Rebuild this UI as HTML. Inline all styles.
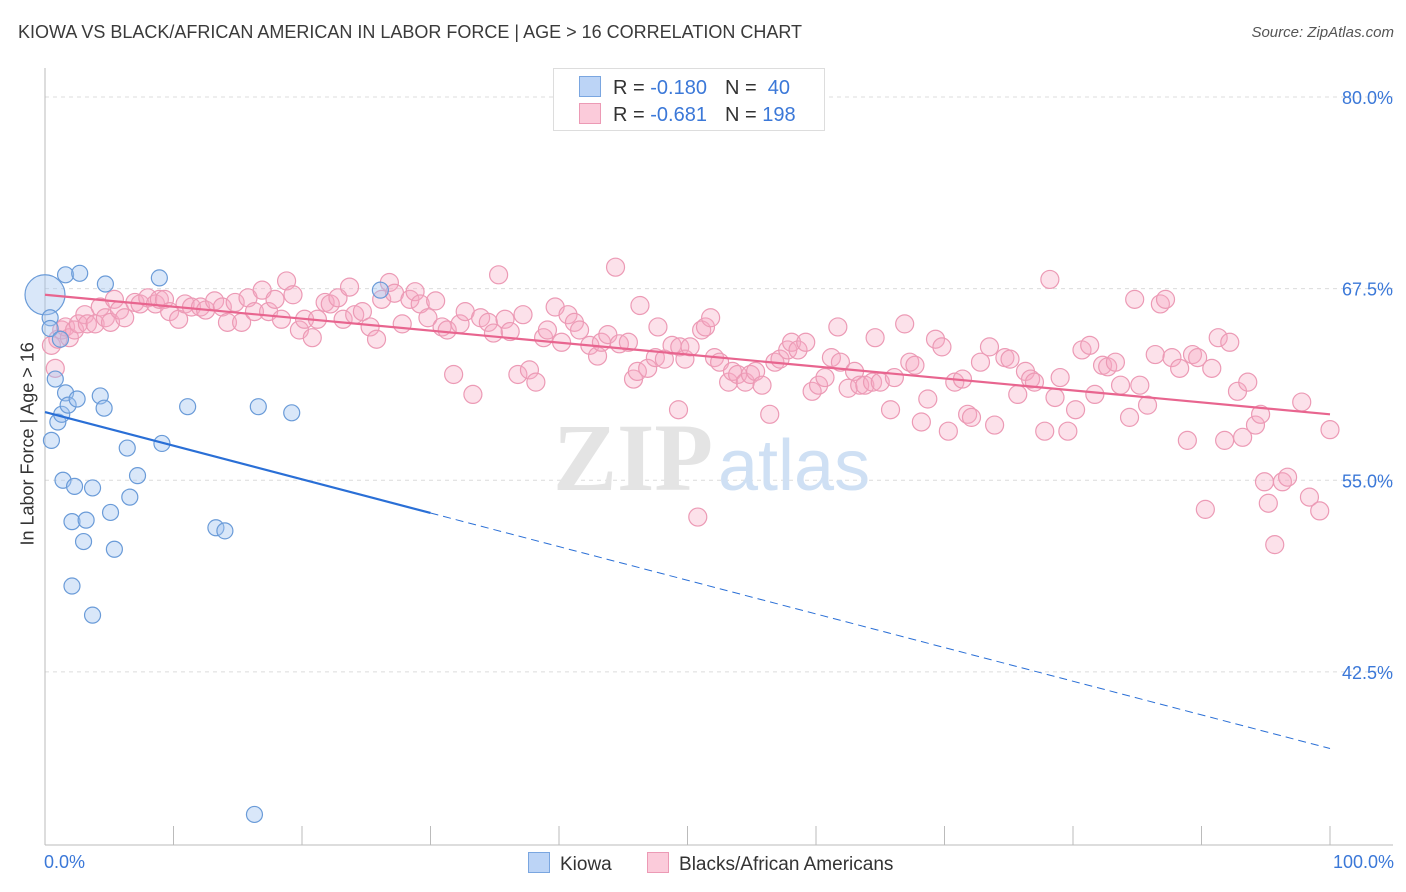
<!DOCTYPE html>
<html><head><meta charset="utf-8">
<style>
body{margin:0;background:#fff;font-family:"Liberation Sans",sans-serif;}
#wrap{position:relative;width:1406px;height:892px;overflow:hidden;}
.t{position:absolute;white-space:nowrap;}
</style></head>
<body>
<div id="wrap">
<div class="t" style="left:18px;top:22px;font-size:18px;color:#3a3a3a;">KIOWA VS BLACK/AFRICAN AMERICAN IN LABOR FORCE | AGE &gt; 16 CORRELATION CHART</div>
<div class="t" style="right:12px;top:24px;font-size:15px;color:#555;font-style:italic;">Source: ZipAtlas.com</div>
<svg id="svg" width="1406" height="892" style="position:absolute;left:0;top:0"></svg>
</div>
<script>
const kiowaX=[0,0.4,0.4,0.5,0.8,1.0,1.2,1.3,1.4,1.6,1.6,1.8,2.1,2.1,2.3,2.5,2.7,3.0,3.2,3.7,3.7,4.3,4.6,4.7,5.1,5.4,6.4,6.6,7.2,8.9,9.1,11.1,13.3,14.0,16.3,16.6,19.2,26.1];
const kiowaY=[67.1,65.6,64.9,57.6,61.6,58.8,64.2,59.3,55.0,68.4,60.7,59.9,52.3,48.1,54.6,60.3,68.5,51.0,52.4,46.2,54.5,60.5,59.7,67.8,52.9,50.5,57.1,53.9,55.3,68.2,57.4,59.8,51.9,51.7,33.2,59.8,59.4,67.4];
const blackX=[0.5,0.8,1.0,1.3,1.6,1.9,2.3,2.6,3.1,3.3,3.9,4.3,4.7,5.1,5.4,5.8,6.2,7.0,7.4,8.0,8.6,8.9,9.3,9.7,10.4,10.9,11.4,12.1,12.5,13.2,13.8,14.2,14.8,15.3,15.8,16.3,16.9,17.4,17.9,18.4,18.8,19.3,19.8,20.2,20.8,21.2,21.8,22.2,22.8,23.2,23.7,24.1,24.7,25.3,25.8,26.2,26.8,27.2,27.8,28.4,28.8,29.2,29.8,30.4,30.9,31.3,31.8,32.3,32.7,33.3,33.9,34.5,34.9,35.3,35.8,36.2,36.8,37.2,37.7,38.2,38.8,39.1,39.7,40.2,40.7,41.2,41.6,42.4,43.0,43.3,43.8,44.4,44.7,45.4,45.8,46.1,46.3,46.9,47.5,47.7,48.2,48.8,49.3,49.4,49.8,50.2,50.8,51.1,51.4,51.8,52.1,52.5,53.2,53.5,53.9,54.5,54.9,55.3,55.8,56.4,56.8,57.2,57.8,58.1,58.6,59.2,59.7,60.2,60.7,61.2,61.7,61.9,62.5,63.0,63.4,63.8,64.4,64.6,65.0,65.8,66.1,66.9,67.3,67.7,68.2,68.7,69.3,69.8,70.3,70.8,71.4,71.8,72.1,72.8,73.5,73.9,74.7,75.1,75.7,76.3,76.7,77.0,77.8,78.2,78.6,79.0,79.6,80.2,80.7,81.3,81.7,82.3,82.7,83.3,83.7,84.4,84.8,85.2,85.8,86.4,86.8,87.2,87.7,88.3,88.9,89.3,89.7,90.3,90.8,91.3,91.8,92.2,92.8,93.2,93.6,94.2,94.6,94.9,95.2,95.7,96.3,96.7,97.8,98.4,99.2,100];
const blackY=[63.8,62.3,64.2,64.8,65.0,64.3,64.8,65.2,65.8,65.2,65.2,66.3,65.6,65.3,66.8,66.1,65.6,66.6,66.5,66.9,66.5,66.8,66.8,66.0,65.5,66.5,66.3,66.3,66.1,66.7,66.3,65.3,66.6,65.3,66.9,66.0,67.4,66.0,66.8,65.5,68.0,67.1,64.8,65.5,64.3,65.5,66.6,66.5,66.9,65.5,67.6,65.8,66.0,65.0,64.2,66.8,67.9,67.2,65.2,66.8,67.3,66.5,65.6,66.7,65.0,64.8,61.9,65.2,66.0,60.6,65.6,65.3,64.6,68.4,65.5,64.7,61.9,65.8,62.2,61.4,64.3,64.8,66.3,64.0,65.8,65.3,64.8,63.8,63.1,64.0,64.5,68.9,63.9,64.0,61.6,62.1,66.4,62.3,63.0,65.0,62.9,63.8,59.6,63.7,62.9,63.7,52.6,64.8,65.0,65.6,63.0,62.7,61.4,62.1,61.9,61.4,61.9,62.1,61.2,59.3,62.7,62.9,63.5,64.0,63.5,64.0,60.8,61.2,61.7,63.0,65.0,62.7,61.0,62.1,61.2,61.2,61.4,64.3,61.4,59.6,61.7,65.2,62.7,62.5,58.8,60.3,64.2,63.7,58.2,61.4,61.6,59.3,59.1,62.7,63.7,58.6,63.0,62.9,60.6,62.1,61.6,61.4,58.2,68.1,60.4,61.7,58.2,59.6,63.5,63.8,60.6,62.5,62.4,62.7,61.2,59.1,66.8,61.2,59.9,63.2,66.5,66.8,63.0,62.3,57.6,63.2,63.0,53.1,62.3,64.3,57.6,64.0,60.8,57.8,61.4,58.6,59.3,54.9,53.5,50.8,54.9,55.2,60.1,53.9,53.0,58.3];
const yTicks=[80,67.5,55,42.5];
const yTickLabels=["80.0%","67.5%","55.0%","42.5%"];
const kiowaTrend=[59.45,37.5];
const blackTrend=[67.1,59.3];

const NS="http://www.w3.org/2000/svg";
const svg=document.getElementById('svg');
const X0=45,X1=1330;
function sx(v){return X0+(X1-X0)*v/100;}
function sy(v){return 97+(80-v)*15.33;}
function mk(tag,attrs,parent){const e=document.createElementNS(NS,tag);for(const k in attrs)e.setAttribute(k,attrs[k]);(parent||svg).appendChild(e);return e;}

// gridlines & y labels
yTicks.forEach((v,i)=>{
  const g=mk('line',{x1:X0,x2:1393,y1:sy(v),y2:sy(v),stroke:'#dcdcdc','stroke-dasharray':'4,4'});
  
  
  const t=mk('text',{x:1393,y:sy(v)+7,'text-anchor':'end','font-size':18,fill:'#3b78d8','font-family':'Liberation Sans'});
  t.textContent=yTickLabels[i];
  
  
});
// axes
let ax=mk('line',{x1:X0,x2:X0,y1:68,y2:845,stroke:'#bbb'});


ax=mk('line',{x1:X0,x2:1393,y1:845,y2:845,stroke:'#bbb'});


for(let i=0;i<=10;i++){
  const tk=mk('line',{x1:sx(i*10),x2:sx(i*10),y1:826,y2:845,stroke:'#bbb'});
  
  
}
// watermark
let wm=mk('text',{x:553,y:490,'font-size':96,fill:'#e4e4e4','font-family':'Liberation Serif','font-weight':'bold'});
wm.textContent='ZIP';


wm=mk('text',{x:718,y:490,'font-size':72,fill:'#cfe0f4','font-family':'Liberation Sans'});
wm.textContent='atlas';



// points
blackX.forEach((x,i)=>{
  const c=mk('circle',{cx:sx(x),cy:sy(blackY[i]),r:9,fill:'rgba(246,168,194,0.35)',stroke:'#ec9ab5','stroke-width':1.2});
  
  
});
kiowaX.forEach((x,i)=>{
  const c=mk('circle',{cx:sx(x),cy:sy(kiowaY[i]),r:i==0?20:8,fill:'rgba(160,195,240,0.4)',stroke:'#6a9bd8','stroke-width':1.2});
  
  
});
// trends
const kt=v=>kiowaTrend[0]+(kiowaTrend[1]-kiowaTrend[0])*v/100;
let l=mk('line',{x1:sx(0),y1:sy(kt(0)),x2:sx(30),y2:sy(kt(30)),stroke:'#2a6fd6','stroke-width':2.2});


l=mk('line',{x1:sx(30),y1:sy(kt(30)),x2:sx(100),y2:sy(kt(100)),stroke:'#2a6fd6','stroke-width':1,'stroke-dasharray':'8,5'});


l=mk('line',{x1:sx(0),y1:sy(blackTrend[0]),x2:sx(100),y2:sy(blackTrend[1]),stroke:'#e8658f','stroke-width':2.2});


</script>
<div class="t" style="left:-62px;top:445px;font-size:18px;color:#333;transform:rotate(-90deg);width:180px;text-align:center;">In Labor Force | Age &gt; 16</div>
<div class="t" style="left:44px;top:852px;font-size:18px;color:#3b78d8;">0.0%</div>
<div class="t" style="right:12px;top:852px;font-size:18px;color:#3b78d8;">100.0%</div>
<div style="position:absolute;left:553px;top:68px;width:270px;height:61px;border:1px solid #ddd;background:#fff;font-size:20px;">
  <div style="position:absolute;left:25px;top:7px;white-space:nowrap;"><span style="display:inline-block;width:20px;height:19px;background:#bcd4f6;border:1px solid #7aa6e0;vertical-align:-3px;margin-right:12px;"></span><span style="color:#333">R = </span><span style="color:#3b78d8">-0.180</span><span style="color:#333;margin-left:18px;">N = </span><span style="color:#3b78d8">&nbsp;40</span></div>
  <div style="position:absolute;left:25px;top:34px;white-space:nowrap;"><span style="display:inline-block;width:20px;height:19px;background:#fbcbda;border:1px solid #ec9ab5;vertical-align:-3px;margin-right:12px;"></span><span style="color:#333">R = </span><span style="color:#3b78d8">-0.681</span><span style="color:#333;margin-left:18px;">N = </span><span style="color:#3b78d8">198</span></div>
</div>
<div style="position:absolute;left:528px;top:852px;font-size:19px;color:#333;white-space:nowrap;">
  <span><span style="display:inline-block;width:20px;height:19px;background:#bcd4f6;border:1px solid #7aa6e0;vertical-align:-3px;margin-right:10px;"></span>Kiowa</span>
  <span style="margin-left:30px;"><span style="display:inline-block;width:20px;height:19px;background:#fbcbda;border:1px solid #ec9ab5;vertical-align:-3px;margin-right:10px;"></span>Blacks/African Americans</span>
</div>
</body></html>
